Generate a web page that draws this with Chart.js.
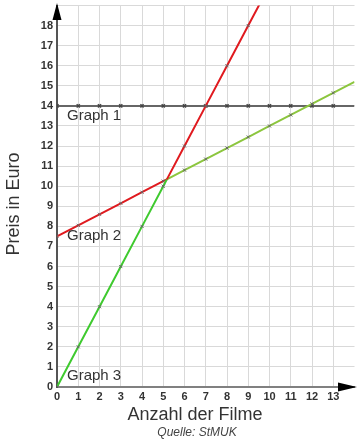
<!DOCTYPE html>
<html>
<head>
<meta charset="utf-8">
<script src="https://cdn.jsdelivr.net/npm/chart.js@4"></script>
<style>
  html, body { margin: 0; padding: 0; background: #fff; }
  #wrap { width: 360px; height: 443px; }
</style>
</head>
<body>
<div id="wrap"><canvas id="myChart" width="360" height="443"></canvas></div>
<script>
// Anzahl der Filme (x) und Preise der drei Tarife
const filme = [0, 1, 2, 3, 4, 5, 6, 7, 8, 9, 10, 11, 12, 13, 14];
const graph1 = [14, 14, 14, 14, 14, 14, 14, 14, 14, 14, 14, 14, 14, 14, 14];
const graph2 = [7.5, 8.05, 8.6, 9.15, 9.7, 10.25, 10.8, 11.35, 11.9, 12.45, 13, 13.55, 14.1, 14.65, 15.2];
const graph3 = [0, 2, 4, 6, 8, 10, 12, 14, 16, 18, 20];
const schnitt = { x: 5.17, y: 10.34 };   // Schnittpunkt Graph 2 / Graph 3
const xTicks = [0, 1, 2, 3, 4, 5, 6, 7, 8, 9, 10, 11, 12, 13];
const yTicks = [0, 1, 2, 3, 4, 5, 6, 7, 8, 9, 10, 11, 12, 13, 14, 15, 16, 17, 18];

const rot = '#e01a1f';
const gruen2 = '#8cc63e';
const gruen3 = '#3fca2f';
const grau = '#666666';
const schrift = 'Arial, "Liberation Sans", sans-serif';

function punkte(werte, mitSchnitt) {
  let pts = werte.map((y, i) => ({ x: filme[i], y: y }));
  if (mitSchnitt) {
    pts.push({ x: schnitt.x, y: schnitt.y });
    pts.sort((a, b) => a.x - b.x);
  }
  return pts;
}

function markerRadius(ctx) {
  const raw = ctx.raw;
  if (!raw || raw.x % 1 !== 0 || raw.x > 13) return 0;
  return 2.2;
}

const beschriftungen = [
  { text: 'Graph 1', x: 0.47, y: 13.5 },
  { text: 'Graph 2', x: 0.47, y: 7.55 },
  { text: 'Graph 3', x: 0.47, y: 0.55 }
];

const extras = {
  id: 'extras',
  afterDatasetsDraw(chart) {
    const c = chart.ctx;
    const xs = chart.scales.x, ys = chart.scales.y;
    c.save();
    c.font = '15px ' + schrift;
    c.fillStyle = '#333';
    c.textAlign = 'left';
    c.textBaseline = 'middle';
    beschriftungen.forEach(b => {
      c.fillText(b.text, xs.getPixelForValue(b.x), ys.getPixelForValue(b.y));
    });
    // Achsentitel und Quelle
    c.textAlign = 'center';
    c.font = '18px ' + schrift;
    c.fillText('Anzahl der Filme', 195, 415);
    c.save();
    c.translate(14, 204);
    c.rotate(-Math.PI / 2);
    c.fillText('Preis in Euro', 0, 0);
    c.restore();
    c.font = 'italic 12px ' + schrift;
    c.fillStyle = '#444';
    c.fillText('Quelle: StMUK', 197, 433);
    // Pfeilspitzen
    const x0 = xs.left, y0 = ys.bottom;
    c.fillStyle = '#000';
    c.beginPath();
    c.moveTo(x0, 3);
    c.lineTo(x0 - 4.5, 20);
    c.lineTo(x0 + 4.5, 20);
    c.closePath();
    c.fill();
    c.beginPath();
    c.moveTo(357, y0);
    c.lineTo(338, y0 - 4.5);
    c.lineTo(338, y0 + 4.5);
    c.closePath();
    c.fill();
    c.restore();
  }
};

const ctx = document.getElementById('myChart').getContext('2d');
const myChart = new Chart(ctx, {
  type: 'line',
  data: {
    datasets: [
      {
        label: 'Graph 3',
        data: punkte(graph3, true),
        borderWidth: 2,
        borderColor: gruen3,
        segment: { borderColor: s => s.p0.parsed.x < schnitt.x ? gruen3 : rot },
        pointStyle: 'crossRot',
        pointRadius: markerRadius,
        pointBorderColor: '#666',
        pointBorderWidth: 1,
        tension: 0
      },
      {
        label: 'Graph 2',
        data: punkte(graph2, true),
        borderWidth: 2,
        borderColor: rot,
        segment: { borderColor: s => s.p0.parsed.x < schnitt.x ? rot : gruen2 },
        pointStyle: 'crossRot',
        pointRadius: markerRadius,
        pointBorderColor: '#666',
        pointBorderWidth: 1,
        tension: 0
      },
      {
        label: 'Graph 1',
        data: punkte(graph1, false),
        borderWidth: 2,
        borderColor: grau,
        pointStyle: 'crossRot',
        pointRadius: markerRadius,
        pointBorderColor: '#444',
        pointBorderWidth: 1.5,
        tension: 0
      }
    ]
  },
  options: {
    responsive: false,
    animation: false,
    layout: { padding: { top: 4, right: 5, left: 0, bottom: 0 } },
    plugins: {
      legend: { display: false },
      tooltip: { enabled: false }
    },
    scales: {
      x: {
        type: 'linear',
        min: 0,
        max: 14,
        afterBuildTicks: s => { s.ticks = xTicks.map(v => ({ value: v })); },
        ticks: {
          color: '#333',
          padding: 3,
          font: { size: 11, weight: 'bold', family: schrift }
        },
        grid: { color: '#d9d9d9', lineWidth: 1, drawTicks: false },
        border: { color: '#808080', width: 2 },
        afterFit: s => { s.height = 56; s.paddingLeft = 0; s.paddingRight = 0; }
      },
      y: {
        type: 'linear',
        min: 0,
        max: 19,
        afterBuildTicks: s => { s.ticks = yTicks.concat([19]).map(v => ({ value: v })); },
        ticks: {
          color: '#333',
          padding: 4,
          callback: v => v === 19 ? '' : v,
          font: { size: 11, weight: 'bold', family: schrift }
        },
        grid: { color: '#d9d9d9', lineWidth: 1, drawTicks: false },
        border: { color: '#555', width: 2 },
        afterFit: s => { s.width = 57; s.paddingTop = 0; s.paddingBottom = 0; }
      }
    }
  },
  plugins: [extras]
});
</script>
</body>
</html>
